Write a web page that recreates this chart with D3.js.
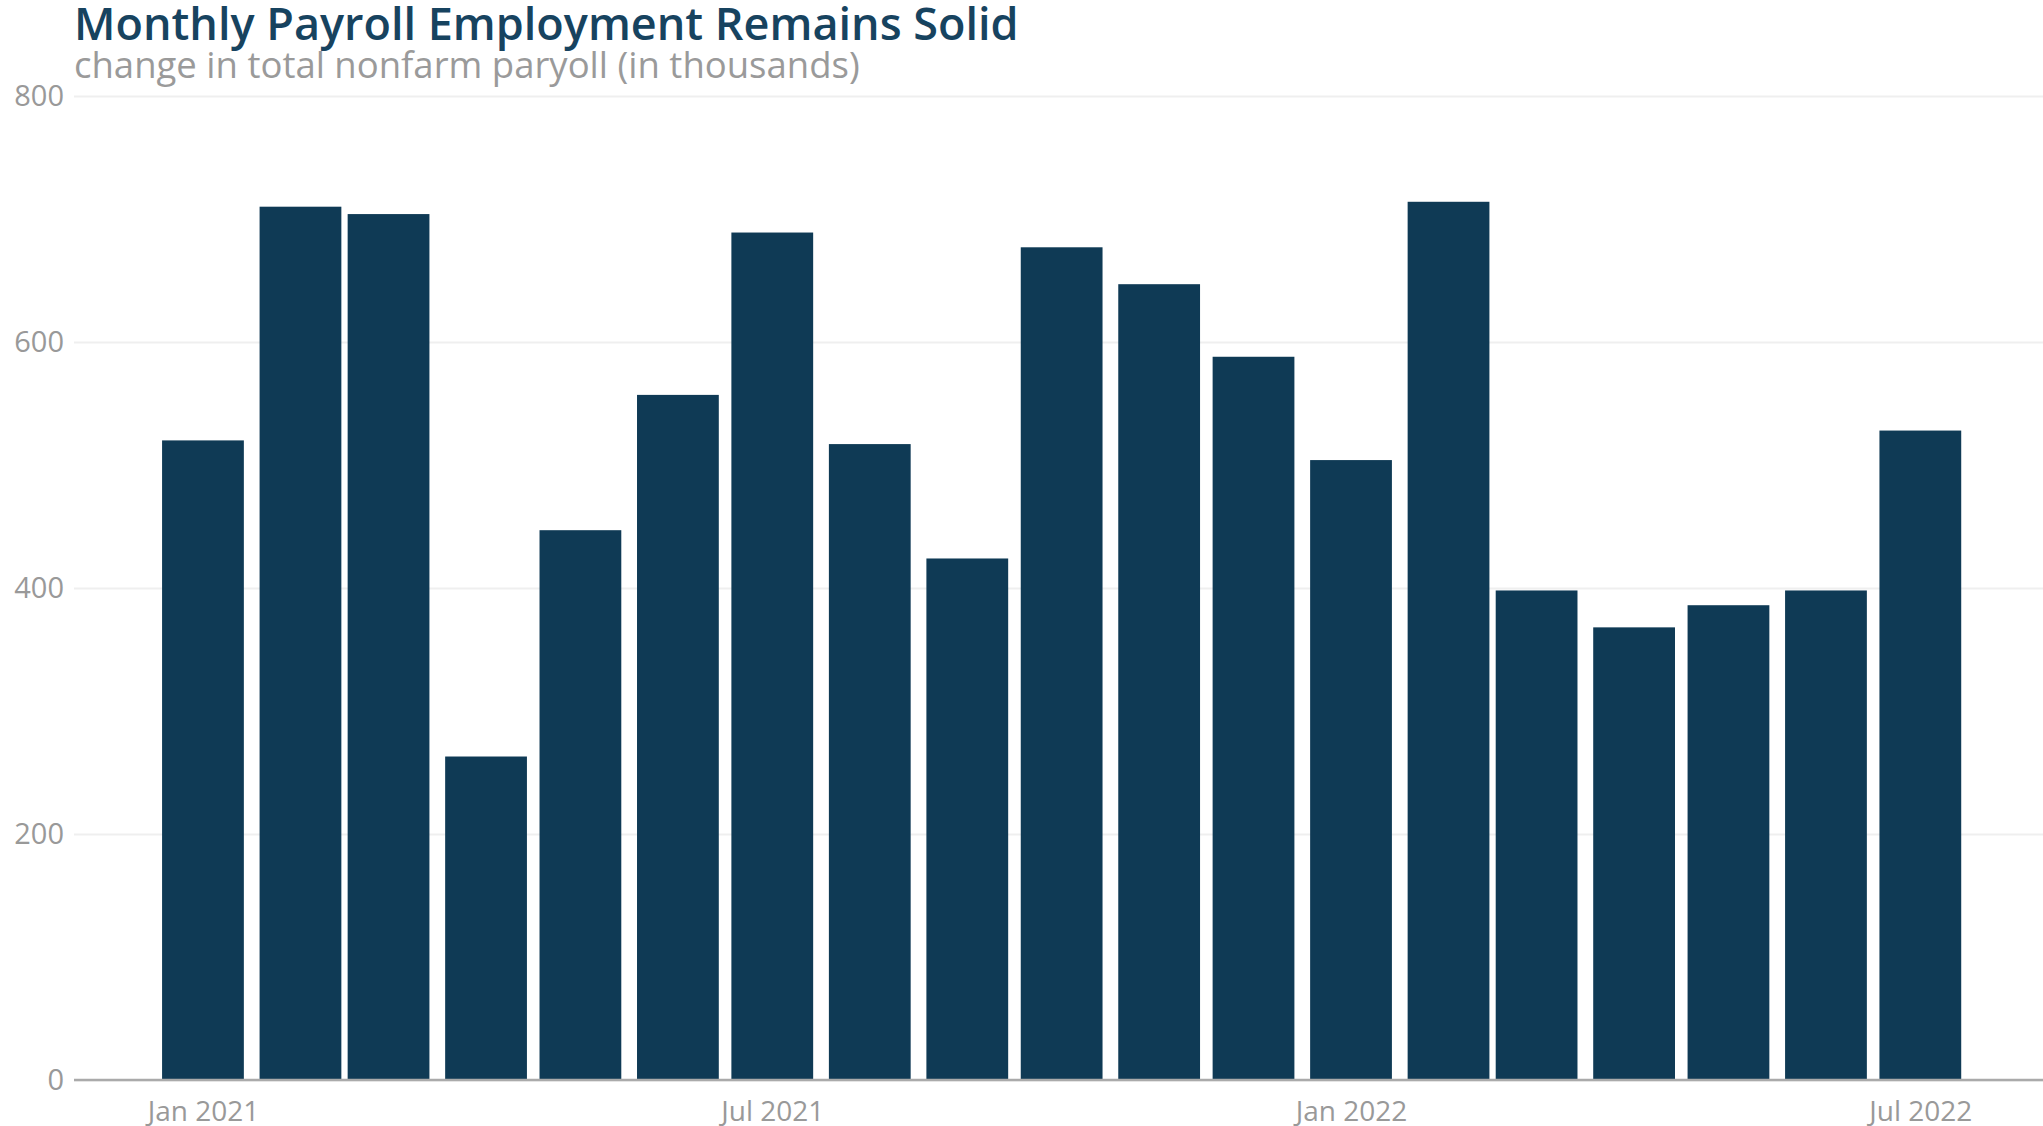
<!DOCTYPE html>
<html>
<head>
<meta charset="utf-8">
<script src="https://cdn.jsdelivr.net/npm/d3@7"></script>
<style>
  html, body { margin: 0; padding: 0; background: #ffffff; }
  svg { display: block; }
  text { font-family: "Open Sans", "Noto Sans", sans-serif; }
</style>
</head>
<body>
<script>
// Change in total nonfarm payroll, thousands of jobs
const months = [
  "2021-01-01", "2021-02-01", "2021-03-01", "2021-04-01", "2021-05-01", "2021-06-01",
  "2021-07-01", "2021-08-01", "2021-09-01", "2021-10-01", "2021-11-01", "2021-12-01",
  "2022-01-01", "2022-02-01", "2022-03-01", "2022-04-01", "2022-05-01", "2022-06-01",
  "2022-07-01"
];
const payrollChange = [
  520, 710, 704, 263, 447, 557,
  689, 517, 424, 677, 647, 588,
  504, 714, 398, 368, 386, 398,
  528
];
const yTicks = [0, 200, 400, 600, 800];
const xTicks = ["2021-01-01", "2021-07-01", "2022-01-01", "2022-07-01"];
const xTickLabels = ["Jan 2021", "Jul 2021", "Jan 2022", "Jul 2022"];

const titleText = "Monthly Payroll Employment Remains Solid";
const subtitleText = "change in total nonfarm paryoll (in thousands)";

const W = 2043, H = 1126;
const plot = { left: 74, right: 2043, top: 96, bottom: 1080 };
const barDays = 26;            // bar width expressed in days on the time axis
const barColor = "#0f3a55";

const parse = d3.utcParse("%Y-%m-%d");
const data = months.map((m, i) => ({ date: parse(m), value: payrollChange[i] }));

const svg = d3.select("body").append("svg")
  .attr("width", W).attr("height", H);

const x = d3.scaleUtc()
  .domain([parse("2020-11-21"), parse("2022-08-09")])
  .range([plot.left, plot.right]);

const y = d3.scaleLinear()
  .domain([0, 800])
  .range([plot.bottom, plot.top]);

// horizontal gridlines + y tick labels
const yAxis = d3.axisLeft(y)
  .tickValues(yTicks)
  .tickSize(-(plot.right - plot.left))
  .tickPadding(10)
  .tickFormat(d3.format("d"));

const gy = svg.append("g")
  .attr("transform", `translate(${plot.left},0)`)
  .call(yAxis);
gy.select(".domain").remove();
gy.selectAll(".tick line")
  .attr("stroke", "#efefef")
  .attr("stroke-width", 2);
gy.selectAll(".tick text")
  .attr("fill", "#999999")
  .attr("font-size", 29)
  .attr("font-family", "'Open Sans', sans-serif");

// bars centred on the first day of each month
const halfBar = d => {
  const t0 = d3.utcDay.offset(d.date, -barDays / 2);
  const t1 = d3.utcDay.offset(d.date, barDays / 2);
  return [x(t0), x(t1)];
};

svg.append("g")
  .selectAll("rect")
  .data(data)
  .join("rect")
  .attr("x", d => halfBar(d)[0])
  .attr("width", d => halfBar(d)[1] - halfBar(d)[0])
  .attr("y", d => y(d.value))
  .attr("height", d => y(0) - y(d.value))
  .attr("fill", barColor);

// zero line
svg.append("line")
  .attr("x1", plot.left).attr("x2", plot.right)
  .attr("y1", y(0)).attr("y2", y(0))
  .attr("stroke", "#aaaaaa")
  .attr("stroke-width", 2.5);

// x axis labels
const xAxis = d3.axisBottom(x)
  .tickValues(xTicks.map(parse))
  .tickSize(0)
  .tickPadding(21)
  .tickFormat((d, i) => xTickLabels[i]);

const gx = svg.append("g")
  .attr("transform", `translate(0,${plot.bottom})`)
  .call(xAxis);
gx.select(".domain").remove();
gx.selectAll(".tick text")
  .attr("fill", "#999999")
  .attr("font-size", 28)
  .attr("font-family", "'Open Sans', sans-serif");

// title and subtitle
svg.append("text")
  .attr("x", 74).attr("y", 40)
  .attr("font-size", 45)
  .attr("font-weight", 600)
  .attr("fill", "#17435f")
  .text(titleText);

svg.append("text")
  .attr("x", 74).attr("y", 78)
  .attr("font-size", 36.5)
  .attr("fill", "#9a9a9a")
  .text(subtitleText);
</script>
</body>
</html>
